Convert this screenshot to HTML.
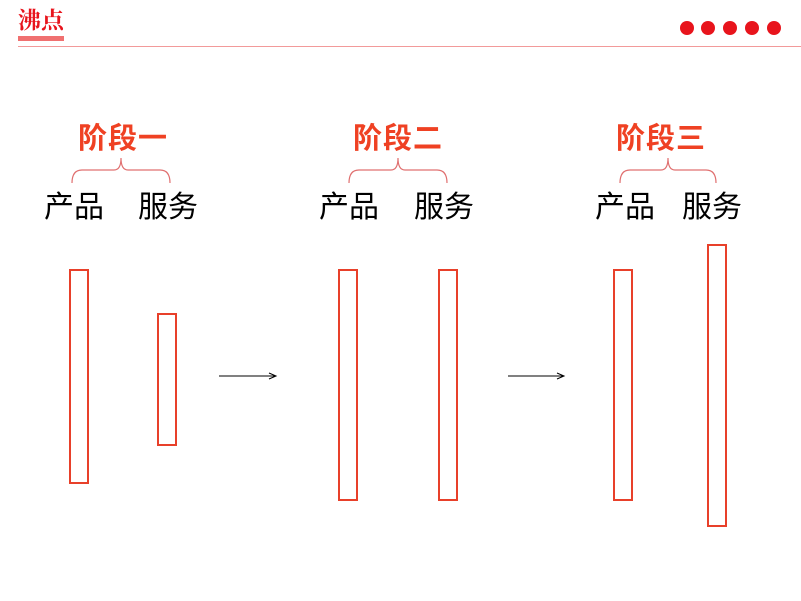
<!DOCTYPE html>
<html><head><meta charset="utf-8"><style>
body{margin:0;width:801px;height:601px;background:#fff;position:relative;overflow:hidden;font-family:"Liberation Sans","Noto Sans CJK SC",sans-serif}
.t{position:absolute;white-space:nowrap}
.h{font-size:29px;font-weight:bold;color:#ef4123;top:115px;letter-spacing:1px}
.l{font-size:30px;color:#000;top:182px}
.r{position:absolute;border:2px solid #e8402a;box-sizing:border-box}
</style></head><body>
<div class="t" style="left:18px;top:6px;font-size:23px;font-weight:bold;color:#e8141c;font-family:'Noto Serif CJK SC',serif;line-height:25px">沸点</div>
<div style="position:absolute;left:18px;top:36px;width:46px;height:5px;background:#f07070"></div>
<div style="position:absolute;left:18px;top:46px;width:783px;height:1px;background:#f29a9a"></div>
<svg width="801" height="601" style="position:absolute;left:0;top:0">
<g fill="#e8141c"><circle cx="687" cy="28" r="7"/><circle cx="708" cy="28" r="7"/><circle cx="730" cy="28" r="7"/><circle cx="752" cy="28" r="7"/><circle cx="774" cy="28" r="7"/></g>
<g fill="none" stroke="#e07070" stroke-width="1.2">
<path d="M72 183 Q72 170 82 170 L114 170 Q121 170 121 158 Q121 170 128 170 L160 170 Q170 170 170 183"/>
<path d="M349 183 Q349 170 359 170 L391 170 Q398 170 398 158 Q398 170 405 170 L437 170 Q447 170 447 183"/>
<path d="M620 183 Q620 170 630 170 L661 170 Q668 170 668 158 Q668 170 675 170 L706 170 Q716 170 716 183"/>
</g>
<g stroke="#000" stroke-width="1" fill="none">
<line x1="219" y1="376" x2="275" y2="376"/><path d="M269 373 L276 376 L269 379"/>
<line x1="508" y1="376" x2="563" y2="376"/><path d="M557 373 L564 376 L557 379"/>
</g>
</svg>
<div class="t h" style="left:78px">阶段一</div>
<div class="t h" style="left:353px">阶段二</div>
<div class="t h" style="left:616px">阶段三</div>
<div class="t l" style="left:44px">产品</div>
<div class="t l" style="left:138px">服务</div>
<div class="t l" style="left:319px">产品</div>
<div class="t l" style="left:414px">服务</div>
<div class="t l" style="left:595px">产品</div>
<div class="t l" style="left:682px">服务</div>
<div class="r" style="left:69px;top:269px;width:20px;height:215px"></div>
<div class="r" style="left:157px;top:313px;width:20px;height:133px"></div>
<div class="r" style="left:338px;top:269px;width:20px;height:232px"></div>
<div class="r" style="left:438px;top:269px;width:20px;height:232px"></div>
<div class="r" style="left:613px;top:269px;width:20px;height:232px"></div>
<div class="r" style="left:707px;top:244px;width:20px;height:283px"></div>
</body></html>
